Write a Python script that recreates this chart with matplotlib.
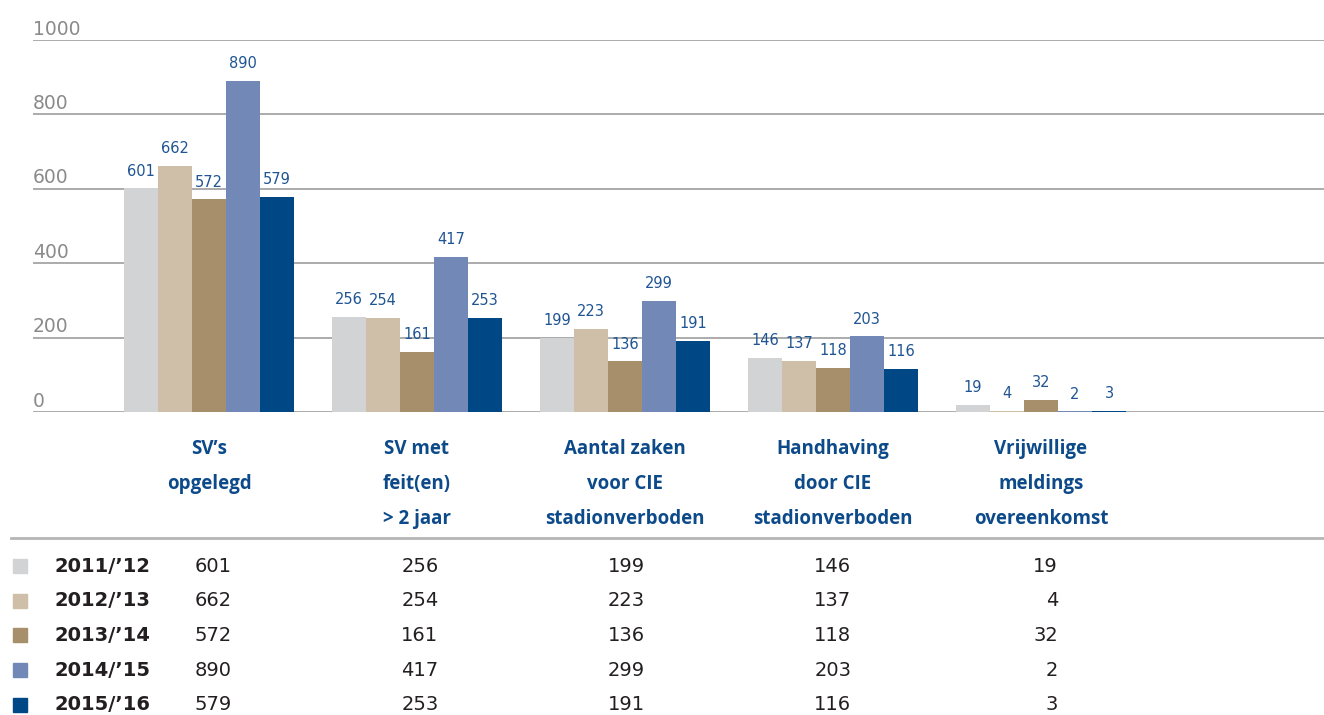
import matplotlib.pyplot as plt
import numpy as np

categories = ["SV\u2019s\nopgelegd", "SV met\nfeit(en)\n> 2 jaar", "Aantal zaken\nvoor CIE\nstadionverboden",
              "Handhaving\ndoor CIE\nstadionverboden", "Vrijwillige\nmeldings\novereenkomst"]
seasons = ["2011/\u201912", "2012/\u201913", "2013/\u201914", "2014/\u201915", "2015/\u201916"]
values = [
    [601, 256, 199, 146, 19],
    [662, 254, 223, 137, 4],
    [572, 161, 136, 118, 32],
    [890, 417, 299, 203, 2],
    [579, 253, 191, 116, 3],
]
colors = ["#d1d3d4", "#cfbea8", "#a68f6a", "#7289b7", "#004785"]
label_blue = "#1f5592"
title_blue = "#0d4a8a"
yticks = [0, 200, 400, 600, 800, 1000]

plt.rcParams['font.family'] = ['DejaVu Sans']

fig = plt.figure(figsize=(13.24, 7.15), dpi=100)
W, H = 1324, 715
ax = fig.add_axes([33 / W, 1 - 412 / H, 1 - 33 / W, (412 - 40) / H])

x = np.arange(len(categories))
width = 34 / 208
for i, (s, vals) in enumerate(zip(seasons, values)):
    pos = x + (i - 2) * width
    ax.bar(pos, vals, width, color=colors[i], zorder=2)
    for p, v in zip(pos, vals):
        ax.text(p, v + 26, str(v), ha='center', va='bottom', fontsize=10.5, color=label_blue)

ax.set_ylim(0, 1000)
ax.set_xlim(-176 / 208, -176 / 208 + 1291 / 208)
for t in yticks:
    ax.axhline(t, color='#a5a5a5', lw=1.3, zorder=1)
    ax.text(0, t + 4, str(t), transform=ax.get_yaxis_transform(), ha='left', va='bottom',
            fontsize=13.5, color='#8a8a8a')
ax.axis('off')

# group labels under the bars
for i, c in enumerate(categories):
    for j, line in enumerate(c.split("\n")):
        fig.text((209 + 208 * i) / W, 1 - (449 + 35 * j) / H, line, ha='center', va='center',
                 fontsize=13.5, fontweight='bold', color=title_blue, family='Open Sans')

# separator line
fig.add_artist(plt.Line2D([11 / W, 1], [1 - 538 / H, 1 - 538 / H], color='#b5b5b5', lw=2))

# table
for r, s in enumerate(seasons):
    yy = 1 - (566 + 34.7 * r) / H
    fig.add_artist(plt.Rectangle((13 / W, yy - 7 / H), 14 / W, 14 / H, color=colors[r],
                                 transform=fig.transFigure))
    fig.text(55 / W, yy, s, ha='left', va='center', fontsize=14, fontweight='bold', color='#231f20')
    for i in range(len(categories)):
        fig.text((232 + 206.5 * i) / W, yy, str(values[r][i]), ha='right', va='center',
                 fontsize=14, color='#231f20')

fig.savefig("out.png", dpi=100)
